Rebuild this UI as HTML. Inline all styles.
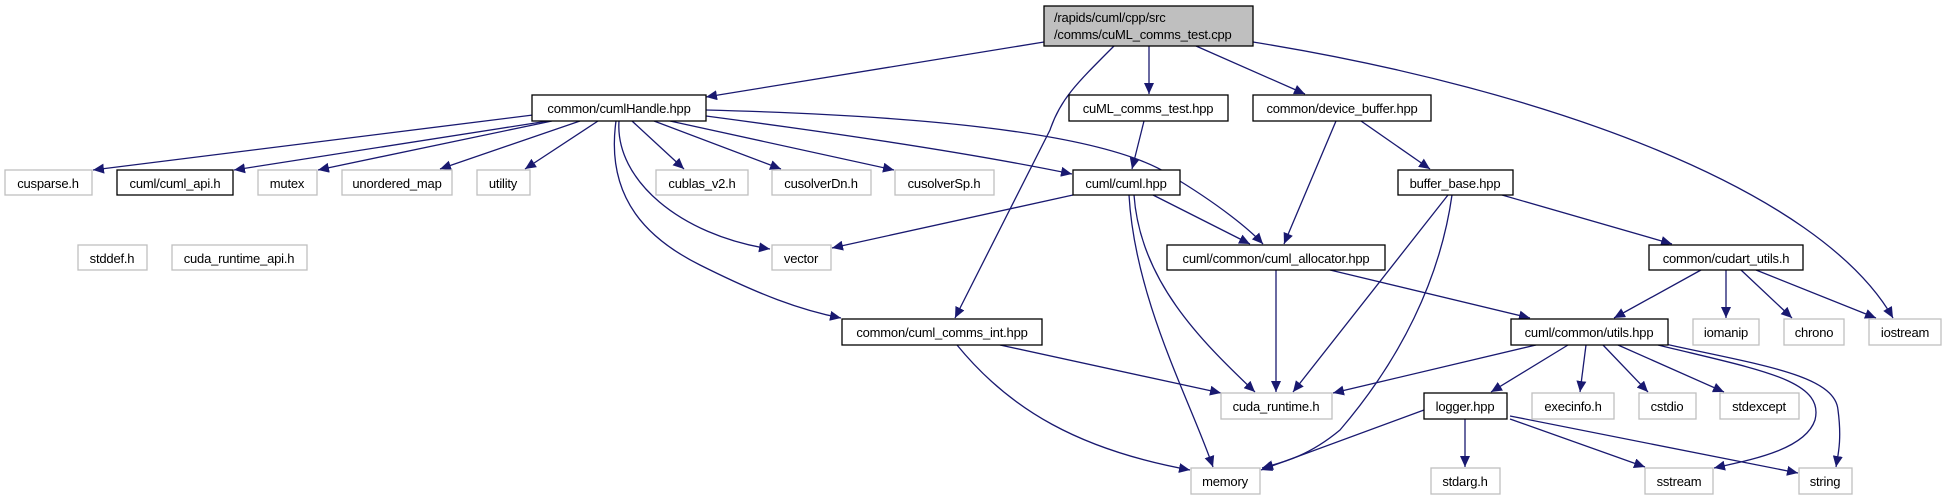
<!DOCTYPE html>
<html><head><meta charset="utf-8"><style>
html,body{margin:0;padding:0;background:#fff;}
svg{display:block;}
text{font-family:"Liberation Sans",sans-serif;font-size:13px;letter-spacing:-0.2px;fill:#000;}
</style></head><body>
<svg width="1946" height="500" viewBox="0 0 1946 500" xmlns="http://www.w3.org/2000/svg">
<defs>
<marker id="a" markerWidth="12" markerHeight="10" refX="11" refY="5" orient="auto" markerUnits="userSpaceOnUse">
<path d="M0,0 L11,5 L0,10 Z" fill="#191970"/>
</marker>
</defs>
<g fill="none" stroke="#191970" stroke-width="1.3" marker-end="url(#a)">
<path d="M1044,42 L706,97"/>
<path d="M1114,46 C1075,85 1060,100 1050,130 L955,318"/>
<path d="M1149,46 L1149,94"/>
<path d="M1196,46 L1305,94"/>
<path d="M1253,42 C1550,90 1820,190 1893,318"/>
<path d="M533,115 L93,170"/>
<path d="M548,121 L234,170"/>
<path d="M552,121 L318,170"/>
<path d="M580,121 L440,169"/>
<path d="M598,121 L525,169"/>
<path d="M632,121 L684,169"/>
<path d="M654,121 L781,169"/>
<path d="M670,121 L894,170"/>
<path d="M706,116 C850,135 980,155 1072,174"/>
<path d="M706,110 C900,115 1100,130 1170,175 C1220,205 1250,230 1263,244"/>
<path d="M619,121 C615,180 680,235 770,249"/>
<path d="M616,121 C605,200 650,240 700,265 C760,295 800,310 841,318"/>
<path d="M1144,121 L1132,169"/>
<path d="M1336,121 L1284,244"/>
<path d="M1361,121 L1430,169"/>
<path d="M1073,195 L832,248"/>
<path d="M1153,195 L1250,244"/>
<path d="M1129,195 C1135,300 1190,400 1213,467"/>
<path d="M1134,195 C1140,280 1200,340 1255,392"/>
<path d="M1276,270 L1276,392"/>
<path d="M1330,270 L1530,318"/>
<path d="M1448,195 L1293,392"/>
<path d="M1452,195 C1440,280 1400,360 1340,430 C1310,455 1285,462 1262,468"/>
<path d="M1502,195 L1672,244"/>
<path d="M1701,270 L1614,318"/>
<path d="M1726,270 L1726,318"/>
<path d="M1741,270 L1792,318"/>
<path d="M1756,270 L1876,318"/>
<path d="M1000,345 L1221,393"/>
<path d="M957,345 C1010,410 1080,450 1190,470"/>
<path d="M1536,345 L1333,393"/>
<path d="M1568,345 L1491,392"/>
<path d="M1586,345 L1580,392"/>
<path d="M1603,345 L1648,392"/>
<path d="M1618,345 L1724,392"/>
<path d="M1658,345 C1760,370 1825,380 1815,420 C1805,450 1750,460 1714,468"/>
<path d="M1665,344 C1760,365 1835,375 1838,410 C1842,440 1838,455 1836,467"/>
<path d="M1424,410 L1261,470"/>
<path d="M1465,419 L1465,467"/>
<path d="M1510,419 L1645,467"/>
<path d="M1510,416 L1798,473"/>
</g>
<g stroke-width="1.3">
<rect x="1044" y="6" width="209" height="40" fill="#bfbfbf" stroke="#000"/>
<g fill="#fff" stroke="#000">
<rect x="532" y="95" width="174" height="26"/>
<rect x="1069" y="95" width="159" height="26"/>
<rect x="1253" y="95" width="178" height="26"/>
<rect x="117" y="170" width="116" height="25"/>
<rect x="1073" y="170" width="107" height="25"/>
<rect x="1398" y="170" width="115" height="25"/>
<rect x="1167" y="245" width="218" height="25"/>
<rect x="1649" y="245" width="154" height="25"/>
<rect x="842" y="319" width="200" height="26"/>
<rect x="1511" y="319" width="157" height="26"/>
<rect x="1424" y="393" width="83" height="26"/>
</g>
<g fill="#fff" stroke="#bfbfbf">
<rect x="5" y="170" width="87" height="25"/>
<rect x="258" y="170" width="59" height="25"/>
<rect x="342" y="170" width="110" height="25"/>
<rect x="477" y="170" width="53" height="25"/>
<rect x="656" y="170" width="92" height="25"/>
<rect x="772" y="170" width="99" height="25"/>
<rect x="895" y="170" width="99" height="25"/>
<rect x="78" y="245" width="69" height="25"/>
<rect x="172" y="245" width="135" height="25"/>
<rect x="772" y="245" width="59" height="25"/>
<rect x="1693" y="319" width="66" height="26"/>
<rect x="1784" y="319" width="60" height="26"/>
<rect x="1869" y="319" width="72" height="26"/>
<rect x="1221" y="393" width="111" height="26"/>
<rect x="1532" y="393" width="82" height="26"/>
<rect x="1639" y="393" width="57" height="26"/>
<rect x="1720" y="393" width="79" height="26"/>
<rect x="1191" y="468" width="69" height="26"/>
<rect x="1431" y="468" width="69" height="26"/>
<rect x="1645" y="468" width="68" height="26"/>
<rect x="1799" y="468" width="53" height="26"/>
</g>
</g>
<text x="1054" y="22">/rapids/cuml/cpp/src</text>
<text x="1054" y="39">/comms/cuML_comms_test.cpp</text>
<g text-anchor="middle">
<text x="619" y="113">common/cumlHandle.hpp</text>
<text x="1148" y="113">cuML_comms_test.hpp</text>
<text x="1342" y="113">common/device_buffer.hpp</text>
<text x="175" y="188">cuml/cuml_api.h</text>
<text x="1126" y="188">cuml/cuml.hpp</text>
<text x="1455" y="188">buffer_base.hpp</text>
<text x="1276" y="263">cuml/common/cuml_allocator.hpp</text>
<text x="1726" y="263">common/cudart_utils.h</text>
<text x="942" y="337">common/cuml_comms_int.hpp</text>
<text x="1589" y="337">cuml/common/utils.hpp</text>
<text x="1465" y="411">logger.hpp</text>
<text x="48" y="188">cusparse.h</text>
<text x="287" y="188">mutex</text>
<text x="397" y="188">unordered_map</text>
<text x="503" y="188">utility</text>
<text x="702" y="188">cublas_v2.h</text>
<text x="821" y="188">cusolverDn.h</text>
<text x="944" y="188">cusolverSp.h</text>
<text x="112" y="263">stddef.h</text>
<text x="239" y="263">cuda_runtime_api.h</text>
<text x="801" y="263">vector</text>
<text x="1726" y="337">iomanip</text>
<text x="1814" y="337">chrono</text>
<text x="1905" y="337">iostream</text>
<text x="1276" y="411">cuda_runtime.h</text>
<text x="1573" y="411">execinfo.h</text>
<text x="1667" y="411">cstdio</text>
<text x="1759" y="411">stdexcept</text>
<text x="1225" y="486">memory</text>
<text x="1465" y="486">stdarg.h</text>
<text x="1679" y="486">sstream</text>
<text x="1825" y="486">string</text>
</g>
</svg>
</body></html>
